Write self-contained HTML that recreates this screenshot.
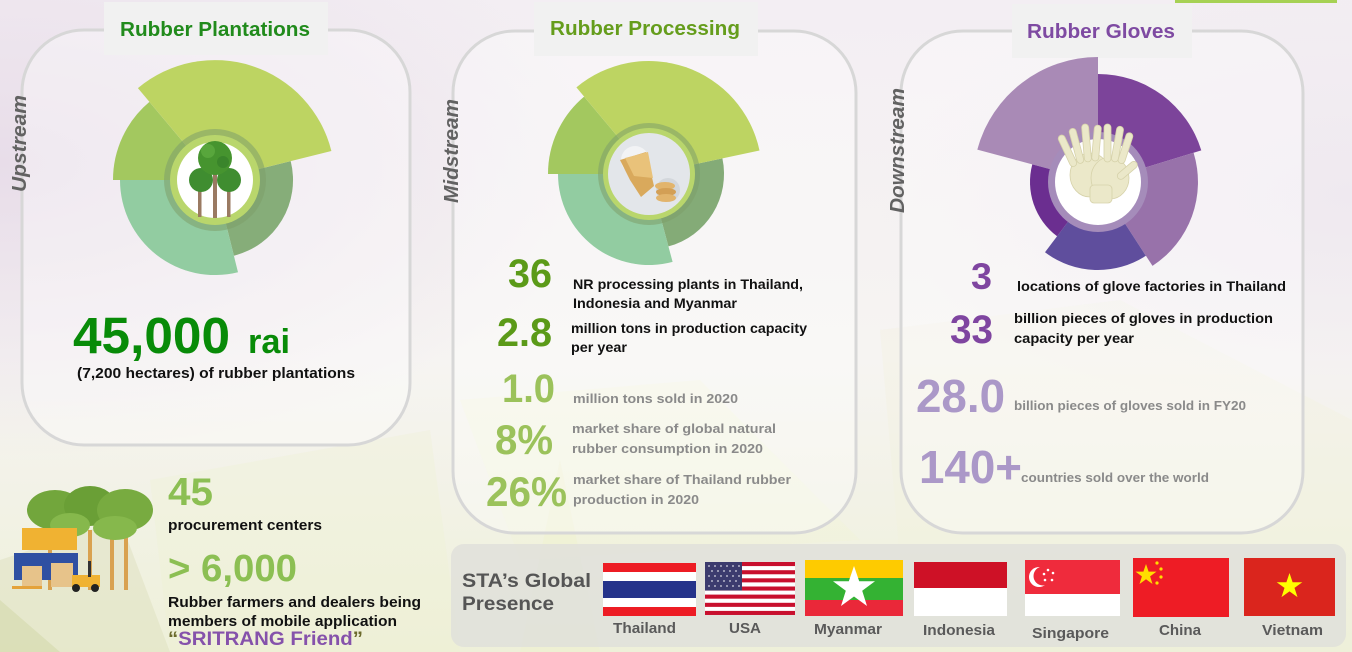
<!DOCTYPE html>
<html><head><meta charset="utf-8"><style>
html,body{margin:0;padding:0;width:1352px;height:652px;overflow:hidden;background:#f4f1f3;}
svg{display:block;}
text{font-family:"Liberation Sans",Arial,sans-serif;font-weight:bold;}
</style></head><body>
<svg width="1352" height="652" viewBox="0 0 1352 652" xmlns="http://www.w3.org/2000/svg">
<defs>
<linearGradient id="bg" x1="0" y1="0" x2="0" y2="1">
<stop offset="0" stop-color="#f3eef3"/><stop offset="0.55" stop-color="#f6f4f2"/><stop offset="1" stop-color="#eef0d9"/>
</linearGradient>
<radialGradient id="lav" cx="0" cy="0.25" r="0.45">
<stop offset="0" stop-color="#e8dde9"/><stop offset="1" stop-color="#e8dde9" stop-opacity="0"/>
</radialGradient>
<radialGradient id="rt" cx="1" cy="0.3" r="0.35">
<stop offset="0" stop-color="#efe9f0"/><stop offset="1" stop-color="#efe9f0" stop-opacity="0"/>
</radialGradient>
</defs>
<rect width="1352" height="652" fill="url(#bg)"/>
<rect width="1352" height="652" fill="url(#lav)"/>
<rect width="1352" height="652" fill="url(#rt)"/>
<!-- low poly bg -->
<polygon points="0,560 120,520 170,652 0,652" fill="#d9ddb6" opacity="0.4"/>
<polygon points="0,600 60,652 0,652" fill="#cfd6a6" opacity="0.5"/>
<polygon points="150,480 430,430 460,652 170,652" fill="#eef1d2" opacity="0.3"/>
<polygon points="460,400 700,380 860,540 520,560" fill="#f3f5d6" opacity="0.4"/>
<polygon points="880,330 1120,300 1352,420 1352,560 900,560" fill="#f1f2dc" opacity="0.3"/>
<polygon points="560,460 600,652 520,652" fill="#eef2c8" opacity="0.35"/>
<rect x="1175" y="0" width="162" height="3" fill="#a6d154"/>

<!-- Panel 1 -->
<rect x="22" y="30" width="388" height="415" rx="62" ry="62" fill="#ffffff" fill-opacity="0.35" stroke="#d7d7d7" stroke-width="3"/>
<rect x="104" y="2" width="224" height="53" fill="#f1f1f1"/>
<text x="120" y="36" font-size="20" fill="#218b1c" textLength="190" lengthAdjust="spacingAndGlyphs">Rubber Plantations</text>
<text transform="translate(26,192) rotate(-90)" font-size="20" font-style="italic" fill="#626262" textLength="97" lengthAdjust="spacingAndGlyphs">Upstream</text>
<!-- donut 1 -->
<path d="M215 180 L113 180 A102 102 0 0 1 149.4 101.9 Z" fill="#a3c85f"/>
<path d="M215 180 L290.7 161.1 A78 78 0 0 1 233.9 255.7 Z" fill="#86ad79"/>
<path d="M215 180 L238 272.2 A95 95 0 0 1 120 180 Z" fill="#92cca1"/>
<path d="M215 180 L137.9 88.1 A120 120 0 0 1 331.4 151 Z" fill="#bdd462"/>
<circle cx="215" cy="180" r="51" fill="#7e9f6a" opacity="0.55"/>
<circle cx="215" cy="180" r="45" fill="#b9d66c"/>
<circle cx="215" cy="180" r="38" fill="#ffffff"/>
<rect x="213" y="158" width="4" height="60" fill="#9a7a62"/>
<rect x="198" y="182" width="3.5" height="35" fill="#9a7a62"/>
<rect x="227" y="182" width="3.5" height="35" fill="#9a7a62"/>
<circle cx="201" cy="180" r="12" fill="#3f8d30"/>
<circle cx="229" cy="180" r="12" fill="#3f8d30"/>
<circle cx="215" cy="158" r="17" fill="#46942f"/>
<circle cx="208" cy="151" r="7" fill="#58a63c"/>
<circle cx="223" cy="162" r="6" fill="#3a852b"/>
<text x="73" y="353" font-size="51" fill="#088b08" textLength="157" lengthAdjust="spacingAndGlyphs">45,000</text>
<text x="248" y="353" font-size="34" fill="#088b08" textLength="42" lengthAdjust="spacingAndGlyphs">rai</text>
<text x="77" y="378" font-size="15" fill="#111" textLength="278" lengthAdjust="spacingAndGlyphs">(7,200 hectares) of rubber plantations</text>

<!-- Panel 2 -->
<rect x="453" y="31" width="403" height="502" rx="62" ry="62" fill="#ffffff" fill-opacity="0.35" stroke="#d7d7d7" stroke-width="3"/>
<rect x="534" y="2" width="224" height="54" fill="#f1f1f1"/>
<text x="550" y="35" font-size="20" fill="#659d1c" textLength="190" lengthAdjust="spacingAndGlyphs">Rubber Processing</text>
<text transform="translate(458,203) rotate(-90)" font-size="20" font-style="italic" fill="#626262" textLength="104" lengthAdjust="spacingAndGlyphs">Midstream</text>
<path d="M649 174 L548 174 A101 101 0 0 1 584.1 96.6 Z" fill="#a3c85f"/>
<path d="M649 174 L722.4 158.4 A75 75 0 0 1 668.4 246.4 Z" fill="#84ab77"/>
<path d="M649 174 L672.6 261.9 A91 91 0 0 1 558 174 Z" fill="#92cca1"/>
<path d="M649 174 L576.4 87.4 A113 113 0 0 1 759.5 150.5 Z" fill="#bdd462"/>
<circle cx="649" cy="174" r="51" fill="#7e9f6a" opacity="0.55"/>
<circle cx="649" cy="174" r="46" fill="#b9d66c"/>
<circle cx="649" cy="174" r="41" fill="#e3e6ea"/>
<circle cx="635" cy="160" r="14" fill="#f2f3f5"/>
<circle cx="668" cy="190" r="12" fill="#d3d7dc"/>
<polygon points="620,160 646,152 654,186 641,197 630,180" fill="#d9a95c"/>
<polygon points="625,158 648,152 653,178 634,176" fill="#e9c27a"/>
<ellipse cx="665" cy="186" rx="10" ry="4" fill="#e2b46c"/>
<ellipse cx="666" cy="192" rx="10" ry="4" fill="#d39f55"/>
<ellipse cx="666" cy="198" rx="10" ry="4" fill="#e2b46c"/>
<text x="508" y="287" font-size="40" fill="#5b9a18" textLength="44" lengthAdjust="spacingAndGlyphs">36</text>
<text x="573" y="289" font-size="14" fill="#111" textLength="230" lengthAdjust="spacingAndGlyphs">NR processing plants in Thailand,</text>
<text x="573" y="308" font-size="14" fill="#111" textLength="164" lengthAdjust="spacingAndGlyphs">Indonesia and Myanmar</text>
<text x="497" y="346" font-size="40" fill="#5b9a18" textLength="55" lengthAdjust="spacingAndGlyphs">2.8</text>
<text x="571" y="333" font-size="14" fill="#111" textLength="236" lengthAdjust="spacingAndGlyphs">million tons in production capacity</text>
<text x="571" y="352" font-size="14" fill="#111" textLength="56" lengthAdjust="spacingAndGlyphs">per year</text>
<text x="502" y="402" font-size="40" fill="#9bc25b" textLength="53" lengthAdjust="spacingAndGlyphs">1.0</text>
<text x="573" y="403" font-size="13" fill="#8a8a8a" textLength="165" lengthAdjust="spacingAndGlyphs">million tons sold in 2020</text>
<text x="495" y="454" font-size="42" fill="#9bc25b" textLength="58" lengthAdjust="spacingAndGlyphs">8%</text>
<text x="572" y="433" font-size="13" fill="#8a8a8a" textLength="204" lengthAdjust="spacingAndGlyphs">market share of global natural</text>
<text x="572" y="453" font-size="13" fill="#8a8a8a" textLength="191" lengthAdjust="spacingAndGlyphs">rubber consumption in 2020</text>
<text x="486" y="506" font-size="42" fill="#9bc25b" textLength="81" lengthAdjust="spacingAndGlyphs">26%</text>
<text x="573" y="484" font-size="13" fill="#8a8a8a" textLength="218" lengthAdjust="spacingAndGlyphs">market share of Thailand rubber</text>
<text x="573" y="504" font-size="13" fill="#8a8a8a" textLength="126" lengthAdjust="spacingAndGlyphs">production in 2020</text>

<!-- Panel 3 -->
<rect x="901" y="31" width="402" height="502" rx="62" ry="62" fill="#ffffff" fill-opacity="0.35" stroke="#d7d7d7" stroke-width="3"/>
<rect x="1012" y="4" width="180" height="54" fill="#f1f1f1"/>
<text x="1027" y="38" font-size="20" fill="#7e4aa2" textLength="148" lengthAdjust="spacingAndGlyphs">Rubber Gloves</text>
<text transform="translate(904,213) rotate(-90)" font-size="20" font-style="italic" fill="#626262" textLength="125" lengthAdjust="spacingAndGlyphs">Downstream</text>
<path d="M1098 182 L977.3 149.6 A125 125 0 0 1 1098 57 Z" fill="#a98ab6"/>
<path d="M1098 182 L1098 74 A108 108 0 0 1 1201.3 150.4 Z" fill="#7c449a"/>
<path d="M1098 182 L1193.6 152.8 A100 100 0 0 1 1152.5 265.9 Z" fill="#9872aa"/>
<path d="M1098 182 L1145.9 255.8 A88 88 0 0 1 1045 252.3 Z" fill="#5f4e9d"/>
<path d="M1098 182 L1057.1 236.3 A68 68 0 0 1 1032.3 164.4 Z" fill="#6b2e90"/>
<circle cx="1098" cy="182" r="50" fill="#a58cba"/>
<circle cx="1098" cy="182" r="43" fill="#ffffff"/>
<!-- gloves -->
<g fill="#ebe8c9" stroke="#d6d2aa" stroke-width="0.8">
<ellipse cx="1090" cy="175" rx="20" ry="22"/>
<ellipse cx="1110" cy="178" rx="19" ry="21"/>
<rect x="1090" y="185" width="22" height="18" rx="4"/>
<rect x="1064" y="134" width="7" height="34" rx="3.5" transform="rotate(-25 1067 151)"/>
<rect x="1073" y="128" width="7" height="36" rx="3.5" transform="rotate(-15 1076 146)"/>
<rect x="1083" y="124" width="7" height="38" rx="3.5" transform="rotate(-5 1086 143)"/>
<rect x="1093" y="125" width="7" height="36" rx="3.5" transform="rotate(5 1096 143)"/>
<rect x="1104" y="124" width="7" height="38" rx="3.5" transform="rotate(0 1107 143)"/>
<rect x="1114" y="126" width="7" height="36" rx="3.5" transform="rotate(10 1117 144)"/>
<rect x="1122" y="132" width="7" height="32" rx="3.5" transform="rotate(18 1125 148)"/>
<rect x="1124" y="158" width="7" height="24" rx="3.5" transform="rotate(50 1127 170)"/>
</g>
<text x="971" y="289" font-size="37" fill="#7f45a0" textLength="21" lengthAdjust="spacingAndGlyphs">3</text>
<text x="1017" y="291" font-size="14" fill="#111" textLength="269" lengthAdjust="spacingAndGlyphs">locations of glove factories  in Thailand</text>
<text x="950" y="343" font-size="40" fill="#7f45a0" textLength="43" lengthAdjust="spacingAndGlyphs">33</text>
<text x="1014" y="323" font-size="14" fill="#111" textLength="259" lengthAdjust="spacingAndGlyphs">billion pieces of gloves in production</text>
<text x="1014" y="343" font-size="14" fill="#111" textLength="120" lengthAdjust="spacingAndGlyphs">capacity per year</text>
<text x="916" y="412" font-size="46" fill="#ab98c8" textLength="89" lengthAdjust="spacingAndGlyphs">28.0</text>
<text x="1014" y="410" font-size="13" fill="#8a8a8a" textLength="232" lengthAdjust="spacingAndGlyphs">billion pieces of gloves sold in FY20</text>
<text x="919" y="483" font-size="46" fill="#ab98c8" textLength="103" lengthAdjust="spacingAndGlyphs">140+</text>
<text x="1021" y="482" font-size="13" fill="#8a8a8a" textLength="188" lengthAdjust="spacingAndGlyphs">countries sold over the world</text>

<!-- bottom-left illustration -->
<g>
<rect x="48" y="530" width="4" height="60" fill="#d9a250"/>
<rect x="88" y="530" width="4" height="60" fill="#d9a250"/>
<rect x="110" y="530" width="4" height="60" fill="#d9a250"/>
<rect x="124" y="530" width="4" height="60" fill="#d9a250"/>
<ellipse cx="55" cy="510" rx="28" ry="20" fill="#72a63c"/>
<ellipse cx="90" cy="506" rx="26" ry="20" fill="#6a9f36"/>
<ellipse cx="125" cy="510" rx="28" ry="21" fill="#78ab40"/>
<ellipse cx="70" cy="525" rx="20" ry="12" fill="#86b84c"/>
<ellipse cx="115" cy="528" rx="22" ry="12" fill="#86b84c"/>
<rect x="22" y="528" width="55" height="22" fill="#f0b232"/>
<rect x="14" y="553" width="64" height="27" fill="#2f50a2"/>
<rect x="22" y="566" width="20" height="22" fill="#e7c38a"/>
<rect x="51" y="563" width="22" height="24" fill="#e7c38a"/>
<rect x="12" y="586" width="30" height="3" fill="#e4a23a"/>
<rect x="72" y="575" width="28" height="12" fill="#f0b232"/>
<rect x="88" y="561" width="3" height="16" fill="#333"/>
<circle cx="76" cy="588" r="4" fill="#222"/>
<circle cx="95" cy="588" r="4" fill="#222"/>
</g>
<text x="168" y="505" font-size="39" fill="#8cbf53" textLength="45" lengthAdjust="spacingAndGlyphs">45</text>
<text x="168" y="530" font-size="15" fill="#111" textLength="154" lengthAdjust="spacingAndGlyphs">procurement centers</text>
<text x="168" y="581" font-size="38" fill="#8cbf53" textLength="129" lengthAdjust="spacingAndGlyphs">&gt; 6,000</text>
<text x="168" y="607" font-size="15" fill="#111" textLength="253" lengthAdjust="spacingAndGlyphs">Rubber farmers and dealers being</text>
<text x="168" y="626" font-size="15" fill="#111" textLength="229" lengthAdjust="spacingAndGlyphs">members of mobile application</text>
<text x="168" y="645" font-size="19" fill="#8552ab" textLength="195" lengthAdjust="spacingAndGlyphs"><tspan fill="#6b6a2c">“</tspan>SRITRANG Friend<tspan fill="#6b6a2c">”</tspan></text>

<!-- bottom global presence panel -->
<rect x="451" y="544" width="895" height="103" rx="13" ry="13" fill="#dfdfdb" fill-opacity="0.82"/>
<text x="462" y="587" font-size="19" fill="#555" textLength="129" lengthAdjust="spacingAndGlyphs">STA’s Global</text>
<text x="462" y="610" font-size="19" fill="#555" textLength="92" lengthAdjust="spacingAndGlyphs">Presence</text>

<!-- Thailand -->
<rect x="603" y="563" width="93" height="53" fill="#ed1c24"/>
<rect x="603" y="572" width="93" height="35" fill="#ffffff"/>
<rect x="603" y="581" width="93" height="17" fill="#25338a"/>
<!-- USA -->
<g>
<rect x="705" y="562" width="90" height="53" fill="#ffffff"/>
<rect x="705" y="562.0" width="90" height="4.08" fill="#c8102e"/>
<rect x="705" y="570.2" width="90" height="4.08" fill="#c8102e"/>
<rect x="705" y="578.3" width="90" height="4.08" fill="#c8102e"/>
<rect x="705" y="586.5" width="90" height="4.08" fill="#c8102e"/>
<rect x="705" y="594.6" width="90" height="4.08" fill="#c8102e"/>
<rect x="705" y="602.8" width="90" height="4.08" fill="#c8102e"/>
<rect x="705" y="610.9" width="90" height="4.08" fill="#c8102e"/>
<rect x="705" y="562" width="37" height="28.5" fill="#3c3b6e"/>
<g fill="#fff" opacity="0.8">
<circle cx="709" cy="566" r="0.9"/><circle cx="715" cy="566" r="0.9"/><circle cx="721" cy="566" r="0.9"/><circle cx="727" cy="566" r="0.9"/><circle cx="733" cy="566" r="0.9"/><circle cx="739" cy="566" r="0.9"/>
<circle cx="712" cy="571" r="0.9"/><circle cx="718" cy="571" r="0.9"/><circle cx="724" cy="571" r="0.9"/><circle cx="730" cy="571" r="0.9"/><circle cx="736" cy="571" r="0.9"/>
<circle cx="709" cy="576" r="0.9"/><circle cx="715" cy="576" r="0.9"/><circle cx="721" cy="576" r="0.9"/><circle cx="727" cy="576" r="0.9"/><circle cx="733" cy="576" r="0.9"/><circle cx="739" cy="576" r="0.9"/>
<circle cx="712" cy="581" r="0.9"/><circle cx="718" cy="581" r="0.9"/><circle cx="724" cy="581" r="0.9"/><circle cx="730" cy="581" r="0.9"/><circle cx="736" cy="581" r="0.9"/>
<circle cx="709" cy="586" r="0.9"/><circle cx="715" cy="586" r="0.9"/><circle cx="721" cy="586" r="0.9"/><circle cx="727" cy="586" r="0.9"/><circle cx="733" cy="586" r="0.9"/><circle cx="739" cy="586" r="0.9"/>
</g>
</g>
<!-- Myanmar -->
<rect x="805" y="560" width="98" height="18" fill="#fecb00"/>
<rect x="805" y="578" width="98" height="22" fill="#34b233"/>
<rect x="805" y="600" width="98" height="16" fill="#ea2839"/>
<polygon points="854,566 859.2,581.2 875,581.2 862.2,590.8 867,606 854,596.5 841,606 845.8,590.8 833,581.2 848.8,581.2" fill="#ffffff"/>
<!-- Indonesia -->
<rect x="914" y="562" width="93" height="26" fill="#ce1126"/>
<rect x="914" y="588" width="93" height="28" fill="#ffffff"/>
<!-- Singapore -->
<rect x="1025" y="560" width="95" height="34" fill="#ef2b3c"/>
<rect x="1025" y="594" width="95" height="22" fill="#ffffff"/>
<circle cx="1039" cy="577" r="10" fill="#ffffff"/>
<circle cx="1043" cy="576" r="9.5" fill="#ef2b3c"/>
<g fill="#fff"><circle cx="1048" cy="570" r="1.3"/><circle cx="1053" cy="573" r="1.3"/><circle cx="1052" cy="580" r="1.3"/><circle cx="1045" cy="580" r="1.3"/><circle cx="1044" cy="574" r="1.3"/></g>
<!-- China -->
<rect x="1133" y="558" width="96" height="59" fill="#ee1c25"/>
<polygon points="1146,564 1148.6,571.6 1156.5,571.6 1150.1,576.4 1152.5,584 1146,579.3 1139.5,584 1141.9,576.4 1135.5,571.6 1143.4,571.6" fill="#ffde00"/>
<g fill="#ffde00"><circle cx="1157" cy="563" r="1.6"/><circle cx="1161" cy="569" r="1.6"/><circle cx="1161" cy="577" r="1.6"/><circle cx="1157" cy="583" r="1.6"/></g>
<!-- Vietnam -->
<rect x="1244" y="558" width="91" height="58" fill="#da251d"/>
<polygon points="1289.5,573 1292.6,582.2 1302.3,582.2 1294.5,587.9 1297.5,597.1 1289.5,591.4 1281.5,597.1 1284.5,587.9 1276.7,582.2 1286.4,582.2" fill="#ffff00"/>

<g font-size="15" fill="#5a5a5a">
<text x="613" y="633" textLength="63" lengthAdjust="spacingAndGlyphs">Thailand</text>
<text x="729" y="633" textLength="32" lengthAdjust="spacingAndGlyphs">USA</text>
<text x="814" y="634" textLength="68" lengthAdjust="spacingAndGlyphs">Myanmar</text>
<text x="923" y="635" textLength="72" lengthAdjust="spacingAndGlyphs">Indonesia</text>
<text x="1032" y="638" textLength="77" lengthAdjust="spacingAndGlyphs">Singapore</text>
<text x="1159" y="635" textLength="42" lengthAdjust="spacingAndGlyphs">China</text>
<text x="1262" y="635" textLength="61" lengthAdjust="spacingAndGlyphs">Vietnam</text>
</g>
</svg>
</body></html>
